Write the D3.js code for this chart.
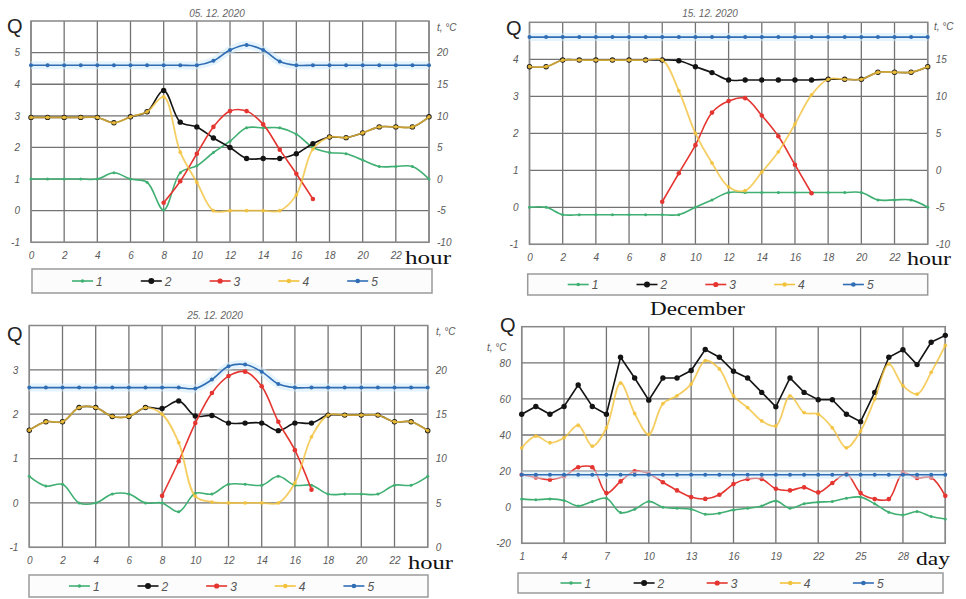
<!DOCTYPE html>
<html>
<head>
<meta charset="utf-8">
<script src="https://cdn.jsdelivr.net/npm/d3@7/dist/d3.min.js"></script>
<style>
  body { margin: 0; background: #fff; }
  svg { display: block; }
  .tick text { font-family: "Liberation Sans", Arial, sans-serif; font-style: italic; font-size: 10px; fill: #5a5a5a; }
  .unit { font-family: "Liberation Sans", Arial, sans-serif; font-style: italic; font-size: 10px; fill: #5a5a5a; }
  .ttl { font-family: "Liberation Sans", Arial, sans-serif; font-style: italic; font-size: 10px; fill: #666; }
  .qlab { font-family: "Liberation Sans", Arial, sans-serif; font-size: 20px; fill: #222; }
  .serif { font-family: "Liberation Serif", "Times New Roman", serif; font-size: 19px; fill: #111; }
  .leg text { font-family: "Liberation Sans", Arial, sans-serif; font-style: italic; font-size: 12px; fill: #555; }
</style>
</head>
<body>
<svg id="chart" width="966" height="599"></svg>
<script>
// x categories
var hours = [0,1,2,3,4,5,6,7,8,9,10,11,12,13,14,15,16,17,18,19,20,21,22,23,24];
var days = [1,2,3,4,5,6,7,8,9,10,11,12,13,14,15,16,17,18,19,20,21,22,23,24,25,26,27,28,29,30,31];
var seriesNames = ['1','2','3','4','5'];

// tick labels
var hourTicks = [0,2,4,6,8,10,12,14,16,18,20,22];
var hourGrid = [0,2,4,6,8,10,12,14,16,18,20,22,24];
var dayTicks = [1,4,7,10,13,16,19,22,25,28];
var dayGrid = [1,4,7,10,13,16,19,22,25,28,31];

// 05.12.2020  (series 1 and 5 are temperatures, t °C; 2-4 are Q)
var dec05_1 = [0,0,0,0,0,1,0,-0.5,-4.9,1,2.1,4.2,6,8.1,8.1,8.1,7.1,5,4.2,4,3,2,2,2,0];
var dec05_2 = [2.95,2.95,2.95,2.95,2.95,2.78,2.97,3.13,3.8,2.8,2.65,2.3,2.0,1.65,1.65,1.65,1.8,2.12,2.33,2.31,2.46,2.65,2.65,2.65,2.97];
var dec05_3 = [null,null,null,null,null,null,null,null,0.25,0.93,1.8,2.65,3.15,3.15,2.73,1.93,1.17,0.37,null,null,null,null,null,null,null];
var dec05_4 = [2.95,2.95,2.95,2.95,2.95,2.78,2.97,3.13,3.6,1.85,0.9,0,0,0,0,0,0.5,1.95,2.33,2.31,2.46,2.65,2.65,2.65,2.97];
var dec05_5 = [18,18,18,18,18,18,18,18,18,18,18,18.7,20.4,21.2,20.4,18.6,18,18,18,18,18,18,18,18,18];

// 15.12.2020
var dec15_1 = [-5,-5,-6,-6,-6,-6,-6,-6,-6,-6,-5,-4,-3,-3,-3,-3,-3,-3,-3,-3,-3,-4,-4,-4,-5];
var dec15_2 = [3.8,3.8,3.98,3.98,3.98,3.98,3.98,3.98,3.98,3.96,3.8,3.64,3.44,3.44,3.44,3.44,3.44,3.44,3.46,3.46,3.46,3.65,3.65,3.65,3.8];
var dec15_3 = [null,null,null,null,null,null,null,null,0.15,0.92,1.68,2.56,2.87,2.95,2.48,1.92,1.15,0.38,null,null,null,null,null,null,null];
var dec15_4 = [3.8,3.8,3.98,3.98,3.98,3.98,3.98,3.98,3.98,3.15,2.0,1.2,0.55,0.45,0.95,1.5,2.25,3.04,3.46,3.46,3.46,3.65,3.65,3.65,3.8];
var dec15_5 = [18,18,18,18,18,18,18,18,18,18,18,18,18,18,18,18,18,18,18,18,18,18,18,18,18];

// 25.12.2020
var dec25_1 = [8,6.9,7.1,5,5,6,6,5,5,4,6.1,6,7.1,7.1,7,8,7,7,6,6,6,6,7,7,8];
var dec25_2 = [1.64,1.83,1.83,2.15,2.15,1.95,1.95,2.15,2.13,2.3,1.96,1.97,1.8,1.8,1.8,1.63,1.8,1.8,1.98,1.98,1.98,1.98,1.83,1.83,1.63];
var dec25_3 = [null,null,null,null,null,null,null,null,0.16,0.94,1.8,2.48,2.86,2.96,2.63,1.83,1.19,0.3,null,null,null,null,null,null,null];
var dec25_4 = [1.64,1.83,1.83,2.15,2.15,1.95,1.95,2.15,2.0,1.36,0.15,0.02,0,0,0,0,0.45,1.49,1.98,1.98,1.98,1.98,1.83,1.83,1.63];
var dec25_5 = [18,18,18,18,18,18,18,18,18,18,17.9,18.9,20.4,20.6,19.8,18.4,18,18,18,18,18,18,18,18,18];

// December, daily
var decDay_1 = [4.6,4.1,4.6,3.7,0.7,3.2,5,-3,-1.1,3.2,0,-0.6,-1.1,-3.9,-3.3,-1.5,-0.6,0.7,3.5,-0.6,1.9,2.8,3.2,5,5.6,1.9,-2.8,-4.3,-2.4,-5.2,-6.5];
var decDay_2 = [51.5,55.8,51.5,55.8,67.7,55.8,51.5,83.1,71.6,59.3,71.6,71.6,75.7,87.4,83.1,75.3,71.6,63.6,55.6,71.6,63.6,59.5,59.5,51.5,47.4,63.6,83.1,87.2,79,91.4,95.2];
var decDay_3 = [18,16.5,15.2,17.1,22.1,22.1,7.8,14.3,19.9,18.6,13.8,9.3,5.6,4.6,6.9,12.8,15.6,15.6,10.2,9.3,11,8.2,13.4,18.4,7.8,4.5,4.5,19,16.2,16.5,6.3];
var decDay_4 = [32.9,39.4,35.7,38.5,45.4,33.8,44,68.8,51.9,40.3,57.4,61.7,68.2,81.2,76.6,61.7,55.2,47.8,45,61.7,52.4,51.5,44,32.9,42.2,59.9,79.4,67.3,62.6,74.7,89.6];
var decDay_5 = [18,18,18,18,18,18,18,18,18,18,18,18,18,18,18,18,18,18,18,18,18,18,18,18,18,18,18,18,18,18,18];

var colors = { '1': '#3faf72', '2': '#141414', '3': '#e53530', '4': '#f2c23c', '5': '#2f6db5' };
var radius = { '1': 1.5, '2': 2.7, '3': 2.3, '4': 1.9, '5': 2.0 };
var drawOrder = ['1', '2', '3', '4', '5'];

var svg = d3.select('#chart');

var panels = [
  { title: '05. 12. 2020', titleX: 217, titleY: 17,
    left: 31, right: 429, top: 21, bottom: 242.3,
    xs: hours, xDomain: [0, 24], xTicks: hourTicks, xGrid: hourGrid,
    qDomain: [-1, 6], qTicks: [-1,0,1,2,3,4,5], tDomain: [-10, 25], tTicks: [-10,-5,0,5,10,15,20],
    series: { '1': dec05_1, '2': dec05_2, '3': dec05_3, '4': dec05_4, '5': dec05_5 },
    qPos: [7, 33], unitPos: [437, 31], xName: 'hour', xNamePos: [405, 264], xNameLen: 46,
    legend: [32, 269, 400, 24] },
  { title: '15. 12. 2020', titleX: 710, titleY: 17,
    left: 529.5, right: 927.7, top: 22.3, bottom: 244.3,
    xs: hours, xDomain: [0, 24], xTicks: hourTicks, xGrid: hourGrid,
    qDomain: [-1, 5], qTicks: [-1,0,1,2,3,4], tDomain: [-10, 20], tTicks: [-10,-5,0,5,10,15],
    series: { '1': dec15_1, '2': dec15_2, '3': dec15_3, '4': dec15_4, '5': dec15_5 },
    qPos: [506, 35], unitPos: [934, 30], xName: 'hour', xNamePos: [907, 265], xNameLen: 44,
    legend: [527.7, 274, 400, 21] },
  { title: '25. 12. 2020', titleX: 215, titleY: 319,
    left: 29.3, right: 427.7, top: 325.5, bottom: 547.3,
    xs: hours, xDomain: [0, 24], xTicks: hourTicks, xGrid: hourGrid,
    qDomain: [-1, 4], qTicks: [-1,0,1,2,3], tDomain: [0, 25], tTicks: [0,5,10,15,20],
    series: { '1': dec25_1, '2': dec25_2, '3': dec25_3, '4': dec25_4, '5': dec25_5 },
    qPos: [7, 341], unitPos: [436, 335], xName: 'hour', xNamePos: [408, 569], xNameLen: 45,
    legend: [29, 575, 399, 22] },
  { title: null,
    left: 521.7, right: 945.3, top: 326.7, bottom: 543.3,
    xs: days, xDomain: [1, 31], xTicks: dayTicks, xGrid: dayGrid,
    qDomain: [-20, 100], qTicks: [-20,0,20,40,60,80], tDomain: null, tTicks: null,
    series: { '1': decDay_1, '2': decDay_2, '3': decDay_3, '4': decDay_4, '5': decDay_5 },
    qPos: [500, 332], unitPos: [487, 351], xName: 'day', xNamePos: [916, 565], xNameLen: 34,
    legend: [518, 573, 425, 20], straight: ['2'] }
];

var plain = function(d){ return String(d); };

panels.forEach(function(p) {
  var g = svg.append('g');
  var x = d3.scaleLinear().domain(p.xDomain).range([p.left, p.right]);
  var q = d3.scaleLinear().domain(p.qDomain).range([p.bottom, p.top]);
  var t = p.tDomain ? d3.scaleLinear().domain(p.tDomain).range([p.bottom, p.top]) : q;

  // grid
  g.append('g').selectAll('line').data(p.xGrid).enter().append('line')
    .attr('x1', function(d){ return x(d); }).attr('x2', function(d){ return x(d); })
    .attr('y1', p.top).attr('y2', p.bottom)
    .attr('stroke', '#737373').attr('stroke-width', 1.3);
  g.append('g').selectAll('line').data(p.qTicks).enter().append('line')
    .attr('y1', function(d){ return q(d); }).attr('y2', function(d){ return q(d); })
    .attr('x1', p.left).attr('x2', p.right)
    .attr('stroke', '#737373').attr('stroke-width', 1.3);
  g.append('rect')
    .attr('x', p.left).attr('y', p.top)
    .attr('width', p.right - p.left).attr('height', p.bottom - p.top)
    .attr('fill', 'none').attr('stroke', '#888').attr('stroke-width', 1.5);

  // axes
  var ax = g.append('g').attr('transform', 'translate(' + p.left + ',0)')
    .call(d3.axisLeft(q).tickValues(p.qTicks).tickFormat(plain).tickSize(0).tickPadding(11));
  ax.select('.domain').remove();
  if (p.tDomain) {
    var axr = g.append('g').attr('transform', 'translate(' + p.right + ',0)')
      .call(d3.axisRight(t).tickValues(p.tTicks).tickFormat(plain).tickSize(0).tickPadding(8));
    axr.select('.domain').remove();
  }
  var axb = g.append('g').attr('transform', 'translate(0,' + p.bottom + ')')
    .call(d3.axisBottom(x).tickValues(p.xTicks).tickFormat(plain).tickSize(0).tickPadding(10));
  axb.select('.domain').remove();

  // labels
  if (p.title) {
    g.append('text').attr('class', 'ttl').attr('x', p.titleX).attr('y', p.titleY)
      .attr('text-anchor', 'middle').text(p.title);
  }
  g.append('text').attr('class', 'qlab').attr('x', p.qPos[0]).attr('y', p.qPos[1]).text('Q');
  g.append('text').attr('class', 'unit').attr('x', p.unitPos[0]).attr('y', p.unitPos[1]).text('t, °C');
  g.append('text').attr('class', 'serif').attr('x', p.xNamePos[0]).attr('y', p.xNamePos[1])
    .attr('textLength', p.xNameLen).attr('lengthAdjust', 'spacingAndGlyphs').text(p.xName);

  // series
  drawOrder.forEach(function(k) {
    var vals = p.series[k];
    var y = (k === '1' || k === '5') ? t : q;
    var pts = p.xs.map(function(xv, i){ return { x: xv, v: vals[i] }; })
      .filter(function(d){ return d.v !== null; });
    var curve = (p.straight && p.straight.indexOf(k) >= 0) ? d3.curveLinear : d3.curveCatmullRom.alpha(0.5);
    var line = d3.line().x(function(d){ return x(d.x); }).y(function(d){ return y(d.v); }).curve(curve);
    var sg = g.append('g');
    if (k === '5') {
      sg.append('path').attr('d', line(pts)).attr('fill', 'none')
        .attr('stroke', '#cfeafa').attr('stroke-width', 8).attr('opacity', 0.55);
    }
    sg.append('path').attr('d', line(pts)).attr('fill', 'none')
      .attr('stroke', colors[k]).attr('stroke-width', k === '4' ? 1.8 : 1.6)
      .attr('opacity', k === '4' ? 0.8 : 1);
    sg.selectAll('circle').data(pts).enter().append('circle')
      .attr('cx', function(d){ return x(d.x); }).attr('cy', function(d){ return y(d.v); })
      .attr('r', radius[k]).attr('fill', colors[k]).attr('opacity', k === '4' ? 0.85 : 1);
  });

  // legend
  var L = p.legend;
  var lg = g.append('g').attr('class', 'leg');
  lg.append('rect').attr('x', L[0]).attr('y', L[1]).attr('width', L[2]).attr('height', L[3])
    .attr('fill', '#fcfcfc').attr('stroke', '#9a9a9a').attr('stroke-width', 1.5);
  seriesNames.forEach(function(k, i) {
    var lx = L[0] + L[2] * 0.1 + i * L[2] * 0.172;
    var ly = L[1] + L[3] / 2;
    lg.append('line').attr('x1', lx).attr('x2', lx + 21).attr('y1', ly).attr('y2', ly)
      .attr('stroke', colors[k]).attr('stroke-width', 1.6);
    lg.append('circle').attr('cx', lx + 10.5).attr('cy', ly).attr('r', radius[k] + 0.3).attr('fill', colors[k]);
    lg.append('text').attr('x', lx + 24).attr('y', ly + 4.5).text(k);
  });
});

svg.append('text').attr('class', 'serif').attr('x', 650).attr('y', 315)
  .attr('textLength', 95).attr('lengthAdjust', 'spacingAndGlyphs').text('December');
</script>
</body>
</html>
